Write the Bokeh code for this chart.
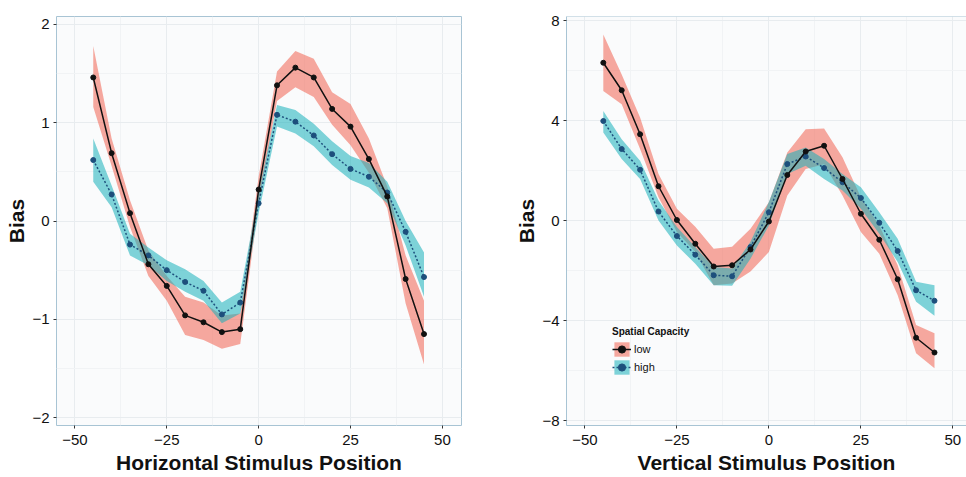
from bokeh.plotting import figure
from bokeh.layouts import row
from bokeh.models import FixedTicker, Legend, LegendItem, Span, Range1d
from bokeh.embed import file_html
from bokeh.resources import INLINE

# ---------------- data ----------------
positions = [-45, -40, -35, -30, -25, -20, -15, -10, -5, 0, 5, 10, 15, 20, 25, 30, 35, 40, 45]

# Horizontal stimulus position
h_low = [1.46, 0.69, 0.08, -0.44, -0.66, -0.96, -1.03, -1.13, -1.10, 0.32, 1.38, 1.56, 1.46, 1.14, 0.96, 0.63, 0.25, -0.59, -1.15]
h_low_upper = [1.78, 0.84, 0.21, -0.30, -0.56, -0.77, -0.83, -0.96, -0.94, 0.45, 1.52, 1.73, 1.65, 1.31, 1.19, 0.84, 0.35, -0.35, -0.81]
h_low_lower = [1.16, 0.56, -0.06, -0.56, -0.81, -1.16, -1.21, -1.30, -1.25, 0.18, 1.22, 1.36, 1.26, 0.98, 0.77, 0.49, 0.13, -0.84, -1.46]
h_high = [0.62, 0.27, -0.24, -0.35, -0.50, -0.62, -0.71, -0.95, -0.83, 0.18, 1.08, 1.01, 0.87, 0.68, 0.53, 0.45, 0.29, -0.11, -0.57]
h_high_upper = [0.84, 0.36, -0.13, -0.27, -0.40, -0.49, -0.61, -0.83, -0.72, 0.28, 1.18, 1.13, 0.99, 0.81, 0.66, 0.59, 0.40, 0.00, -0.32]
h_high_lower = [0.40, 0.14, -0.35, -0.45, -0.61, -0.72, -0.81, -1.04, -0.94, 0.08, 0.96, 0.89, 0.76, 0.57, 0.42, 0.34, 0.18, -0.25, -0.77]

# Vertical stimulus position
v_low = [6.31, 5.21, 3.45, 1.37, 0.02, -0.93, -1.84, -1.79, -1.16, -0.04, 1.82, 2.76, 2.99, 1.66, 0.27, -0.77, -2.35, -4.69, -5.28]
v_low_upper = [7.44, 5.84, 4.12, 1.86, 0.47, -0.25, -1.13, -1.05, -0.33, 0.73, 2.72, 3.65, 3.68, 2.53, 0.93, -0.20, -1.79, -4.18, -4.51]
v_low_lower = [5.18, 4.65, 2.86, 0.93, -0.46, -1.26, -2.59, -2.52, -2.04, -1.26, 1.00, 2.06, 2.25, 1.00, -0.46, -1.33, -2.99, -5.31, -5.91]
v_high = [3.98, 2.86, 2.03, 0.36, -0.62, -1.37, -2.19, -2.23, -1.06, 0.33, 2.26, 2.56, 2.10, 1.53, 0.90, -0.09, -1.22, -2.79, -3.21]
v_high_upper = [4.38, 3.25, 2.39, 0.80, -0.26, -1.06, -1.86, -1.92, -0.85, 0.74, 2.66, 2.92, 2.46, 1.86, 1.33, 0.33, -0.73, -2.45, -2.59]
v_high_lower = [3.52, 2.46, 1.66, 0.00, -1.00, -1.73, -2.59, -2.61, -1.53, -0.20, 1.86, 2.19, 1.66, 1.20, 0.47, -0.53, -1.66, -3.25, -3.81]

x_ticks = [-50, -25, 0, 25, 50]
x_minor = [-37.5, -12.5, 12.5, 37.5]
h_y_ticks = [-2, -1, 0, 1, 2]
h_y_minor = [-1.5, -0.5, 0.5, 1.5]
v_y_ticks = [-8, -4, 0, 4, 8]
v_y_minor = [-6, -2, 2, 6]

group_labels = ["low", "high"]
legend_title = "Spatial Capacity"

# ---------------- style ----------------
FONT = "Liberation Sans"
LOW_FILL = "#F2705F"
HIGH_FILL = "#16B1BA"
LOW_LINE = "#111111"
HIGH_LINE = "#1D4F7C"
BORDER = "#A8C4D4"


def fmt(v):
    s = f"{v:g}"
    return s.replace("-", "\u2212")


def make_panel(width, height, xr, yr, yt, ym, xlabel, low, lo_u, lo_l, high, hi_u, hi_l,
               b_left, b_right, b_top, b_bottom, full_outline):
    p = figure(width=width, height=height, x_range=Range1d(*xr), y_range=Range1d(*yr),
               output_backend="svg", toolbar_location=None,
               min_border_left=b_left, min_border_right=b_right,
               min_border_top=b_top, min_border_bottom=b_bottom)
    p.background_fill_color = "#FAFBFC"
    p.border_fill_color = "white"
    if full_outline:
        p.outline_line_color = BORDER
        p.outline_line_width = 1
    else:
        p.outline_line_color = None

    xt = FixedTicker(ticks=x_ticks, minor_ticks=x_minor)
    ytk = FixedTicker(ticks=yt, minor_ticks=ym)
    p.xaxis.ticker = xt
    p.yaxis.ticker = ytk
    p.xgrid.ticker = xt
    p.ygrid.ticker = ytk
    p.xaxis.major_label_overrides = {t: fmt(t) for t in x_ticks}
    p.yaxis.major_label_overrides = {t: fmt(t) for t in yt}
    for g in (p.xgrid, p.ygrid):
        g.grid_line_color = "#E8ECEF"
        g.grid_line_width = 1
        g.minor_grid_line_color = "#F1F3F5"
    for ax in (p.xaxis, p.yaxis):
        ax.axis_line_color = None if full_outline else BORDER
        ax.major_tick_line_color = "#333333"
        ax.major_tick_out = 3
        ax.major_tick_in = 0
        ax.minor_tick_line_color = None
        ax.major_label_text_font = FONT
        ax.major_label_text_font_size = "15px"
        ax.major_label_text_color = "#111111"
        ax.axis_label_text_font = FONT
        ax.axis_label_text_font_size = "21px"
        ax.axis_label_text_font_style = "bold"
        ax.axis_label_text_color = "#111111"
    p.xaxis.axis_label = xlabel
    p.yaxis.axis_label = "Bias"
    p.xaxis.major_label_standoff = 5
    p.xaxis.axis_label_standoff = 3
    p.yaxis.major_label_standoff = 3
    p.yaxis.axis_label_standoff = 1

    if not full_outline:
        p.add_layout(Span(location=yr[1], dimension="width", line_color=BORDER, line_width=1))

    b1 = p.varea(x=positions, y1=lo_l, y2=lo_u, fill_color=LOW_FILL, fill_alpha=0.6)
    b2 = p.varea(x=positions, y1=hi_l, y2=hi_u, fill_color=HIGH_FILL, fill_alpha=0.55)
    l2 = p.line(positions, high, line_color=HIGH_LINE, line_width=1.5, line_dash="2 2")
    s2 = p.scatter(positions, high, size=5, fill_color=HIGH_LINE, line_color=HIGH_LINE)
    l1 = p.line(positions, low, line_color=LOW_LINE, line_width=1.5)
    s1 = p.scatter(positions, low, size=5, fill_color=LOW_LINE, line_color=LOW_LINE)
    return p, (b1, l1, s1), (b2, l2, s2)


p1, _, _ = make_panel(490, 477, (-55, 55.2), (-2.08, 2.08), h_y_ticks, h_y_minor,
                      "Horizontal Stimulus Position",
                      h_low, h_low_upper, h_low_lower, h_high, h_high_upper, h_high_lower,
                      56, 29, 14, 52, True)

p2, low_r, high_r = make_panel(476, 477, (-55, 53.7), (-8.2, 8.16), v_y_ticks, v_y_minor,
                               "Vertical Stimulus Position",
                               v_low, v_low_upper, v_low_lower, v_high, v_high_upper, v_high_lower,
                               76, 0, 16, 49, False)

legend = Legend(items=[LegendItem(label=group_labels[0], renderers=list(low_r)),
                       LegendItem(label=group_labels[1], renderers=list(high_r))],
                location=(46, 49), title=legend_title,
                title_text_font=FONT, title_text_font_size="10px", title_text_font_style="bold",
                title_text_color="#111111", title_standoff=3,
                label_text_font=FONT, label_text_font_size="11px", label_text_color="#111111",
                glyph_width=19, glyph_height=18, label_height=18, label_standoff=3,
                spacing=0, padding=0, margin=0,
                border_line_color=None, background_fill_alpha=0.0)
p2.add_layout(legend)

layout = row(p1, p2)
open("out.html", "w").write(file_html(layout, INLINE))
